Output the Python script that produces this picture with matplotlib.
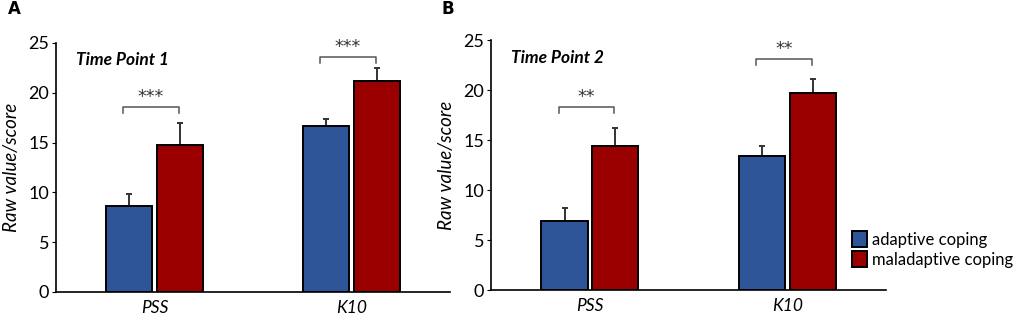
import numpy as np
import matplotlib.pyplot as plt

groups = ['PSS', 'K10']
series = ['adaptive coping', 'maladaptive coping']
colors = ['#2E5597', '#9B0000']

# panel A - time point 1
t1_adaptive = [8.6, 16.7]
t1_maladaptive = [14.8, 21.2]
t1_adaptive_err = [1.2, 0.7]
t1_maladaptive_err = [2.2, 1.3]
t1_sig = ['***', '***']
t1_bracket = [18.6, 23.6]

# panel B - time point 2
t2_adaptive = [6.9, 13.4]
t2_maladaptive = [14.4, 19.7]
t2_adaptive_err = [1.3, 1.0]
t2_maladaptive_err = [1.8, 1.4]
t2_sig = ['**', '**']
t2_bracket = [18.3, 23.1]

plt.rcParams['font.family'] = ['Lato', 'DejaVu Sans']

fig = plt.figure(figsize=(10.21, 3.18), dpi=100)
axA = fig.add_axes([0.0548, 0.082, 0.386, 0.783])
axB = fig.add_axes([0.481, 0.088, 0.387, 0.786])


def panel(ax, ad, mal, ad_err, mal_err, sig, br, title):
    x = np.arange(len(groups))
    w = 0.235
    off = 0.128
    for vals, errs, c, s, sign in [(ad, ad_err, colors[0], series[0], -1),
                                   (mal, mal_err, colors[1], series[1], 1)]:
        ax.bar(x + sign * off, vals, w, color=c, edgecolor='black',
               linewidth=1.4, label=s, zorder=2)
        ax.errorbar(x + sign * off, vals, yerr=[np.zeros(len(errs)), errs],
                    fmt='none', ecolor='#333333', elinewidth=1.4,
                    capsize=2.5, capthick=1.4, zorder=1)
    for i in range(len(groups)):
        x0, x1 = x[i] - off - 0.03, x[i] + off - 0.005
        ax.plot([x0, x0, x1, x1], [br[i] - 0.6, br[i], br[i], br[i] - 0.6],
                color='#555555', lw=1.1)
        ax.text((x0 + x1) / 2, br[i] + 0.1, sig[i], ha='center',
                va='bottom', fontsize=12.5, color='#333333',
                family='DejaVu Sans')
    ax.set_xlim(-0.5, 1.5)
    ax.set_ylim(0, 25)
    ax.set_yticks([0, 5, 10, 15, 20, 25])
    ax.set_xticks(x)
    ax.set_xticklabels(groups, fontstyle='italic')
    ax.tick_params(axis='x', length=0, labelsize=12.5, pad=6)
    ax.tick_params(axis='y', length=3, labelsize=13, pad=2)
    ax.spines['top'].set_visible(False)
    ax.spines['right'].set_visible(False)
    ax.spines['left'].set_linewidth(1.2)
    ax.spines['bottom'].set_linewidth(1.2)
    ax.set_ylabel('Raw value/score', fontstyle='italic', fontsize=13.5,
                  labelpad=6)
    ax.text(0.051, 0.93, title, transform=ax.transAxes, fontsize=12.5,
            fontweight='bold', fontstyle='italic', va='center')


panel(axA, t1_adaptive, t1_maladaptive, t1_adaptive_err, t1_maladaptive_err,
      t1_sig, t1_bracket, 'Time Point 1')
panel(axB, t2_adaptive, t2_maladaptive, t2_adaptive_err, t2_maladaptive_err,
      t2_sig, t2_bracket, 'Time Point 2')

fig.text(0.008, 0.955, 'A', fontsize=12, fontweight='bold', family='DejaVu Sans')
fig.text(0.432, 0.955, 'B', fontsize=12, fontweight='bold', family='DejaVu Sans')

handles, labels = axB.get_legend_handles_labels()
fig.legend(handles, labels, loc='upper left', bbox_to_anchor=(0.828, 0.295),
           frameon=False, fontsize=12, handlelength=0.9, handleheight=1.1,
           handletextpad=0.3, labelspacing=0.2, borderaxespad=0)

fig.savefig('out.png', dpi=100)
